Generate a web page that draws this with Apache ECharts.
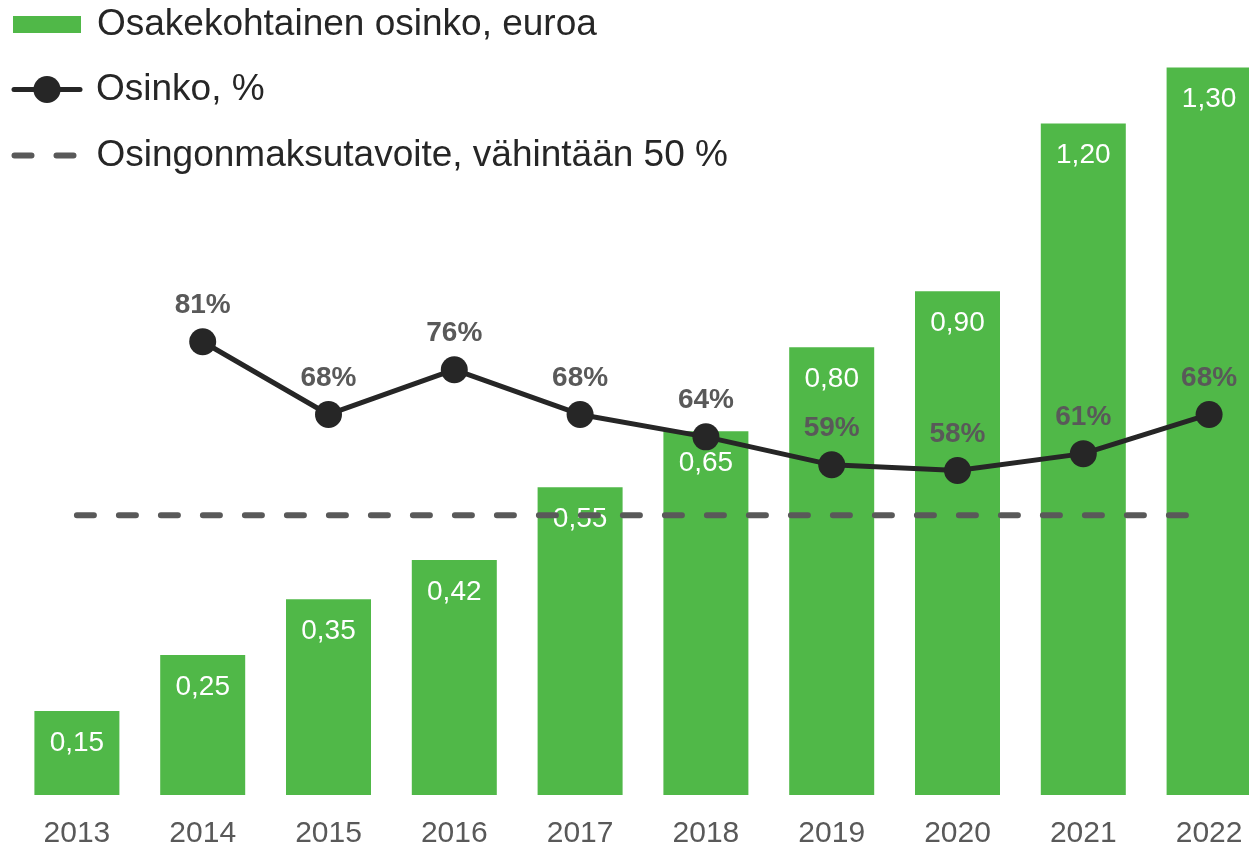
<!DOCTYPE html>
<html>
<head>
<meta charset="utf-8">
<script src="https://cdn.jsdelivr.net/npm/echarts@6/dist/echarts.min.js"></script>
<style>
  html, body { margin: 0; padding: 0; background: #fff; }
  #chart { width: 1249px; height: 848px; }
</style>
</head>
<body>
<div id="chart"></div>
<script>
var years = ['2013', '2014', '2015', '2016', '2017', '2018', '2019', '2020', '2021', '2022'];
var osinkoEuroa = [0.15, 0.25, 0.35, 0.42, 0.55, 0.65, 0.80, 0.90, 1.20, 1.30];
var osinkoPros = [null, 81, 68, 76, 68, 64, 59, 58, 61, 68];
var tavoite = [50, 50, 50, 50, 50, 50, 50, 50, 50, 50];

var nimiPylvas = 'Osakekohtainen osinko, euroa';
var nimiViiva = 'Osinko, %';
var nimiTavoite = 'Osingonmaksutavoite, vähintään 50 %';

var fontti = '"Liberation Sans", Arial, sans-serif';
var legendText = { fontSize: 37, color: '#262626', fontFamily: fontti };

var myChart = echarts.init(document.getElementById('chart'));

var option = {
  animation: false,
  textStyle: { fontFamily: fontti },
  legend: [
    {
      data: [nimiPylvas], orient: 'vertical', left: 13, top: 6, padding: 0,
      itemWidth: 68, itemHeight: 17, icon: 'rect',
      textStyle: Object.assign({ padding: [0, 0, 0, 11] }, legendText)
    },
    {
      data: [nimiViiva], orient: 'vertical', left: 11.5, top: 71, padding: 0,
      itemWidth: 66, itemHeight: 34,
      lineStyle: { width: 5, color: '#262626', cap: 'round' },
      textStyle: Object.assign({ padding: [0, 0, 0, 11] }, legendText)
    },
    {
      data: [nimiTavoite], orient: 'vertical', left: 11.5, top: 137, padding: 0,
      itemWidth: 62, itemHeight: 17,
      lineStyle: { width: 6, color: '#595959', type: [17, 25], cap: 'round' },
      itemStyle: { opacity: 0 },
      textStyle: Object.assign({ padding: [0, 0, 0, 15] }, legendText)
    }
  ],
  grid: { left: 14, top: 67.5, right: -23, bottom: 53, outerBoundsMode: 'none' },
  xAxis: {
    type: 'category',
    data: years,
    axisLine: { show: false },
    axisTick: { show: false },
    axisLabel: { fontSize: 30, color: '#595959', margin: 24, fontFamily: fontti }
  },
  yAxis: [
    { type: 'value', min: 0, max: 1.3, show: false, splitLine: { show: false } },
    { type: 'value', min: 0, max: 130, show: false, splitLine: { show: false } }
  ],
  series: [
    {
      name: nimiPylvas,
      type: 'bar',
      data: osinkoEuroa,
      barWidth: 85,
      itemStyle: { color: '#50b848' },
      label: {
        show: true,
        position: 'insideTop',
        distance: 18,
        fontSize: 28,
        color: '#fff',
        fontFamily: fontti,
        formatter: function (p) { return p.value.toFixed(2).replace('.', ','); }
      },
      z: 2
    },
    {
      name: nimiTavoite,
      type: 'line',
      yAxisIndex: 1,
      data: tavoite,
      symbol: 'none',
      lineStyle: { color: '#595959', width: 6, type: [17, 25], cap: 'round' },
      itemStyle: { color: '#595959' },
      z: 5
    },
    {
      name: nimiViiva,
      type: 'line',
      yAxisIndex: 1,
      data: osinkoPros,
      symbol: 'circle',
      symbolSize: 27,
      lineStyle: { color: '#262626', width: 5, cap: 'round' },
      itemStyle: { color: '#262626' },
      label: {
        show: true,
        position: 'top',
        distance: 9,
        fontSize: 28,
        fontWeight: 'bold',
        color: '#595959',
        fontFamily: fontti,
        formatter: '{c}%'
      },
      z: 6
    }
  ]
};

myChart.setOption(option);
</script>
</body>
</html>
